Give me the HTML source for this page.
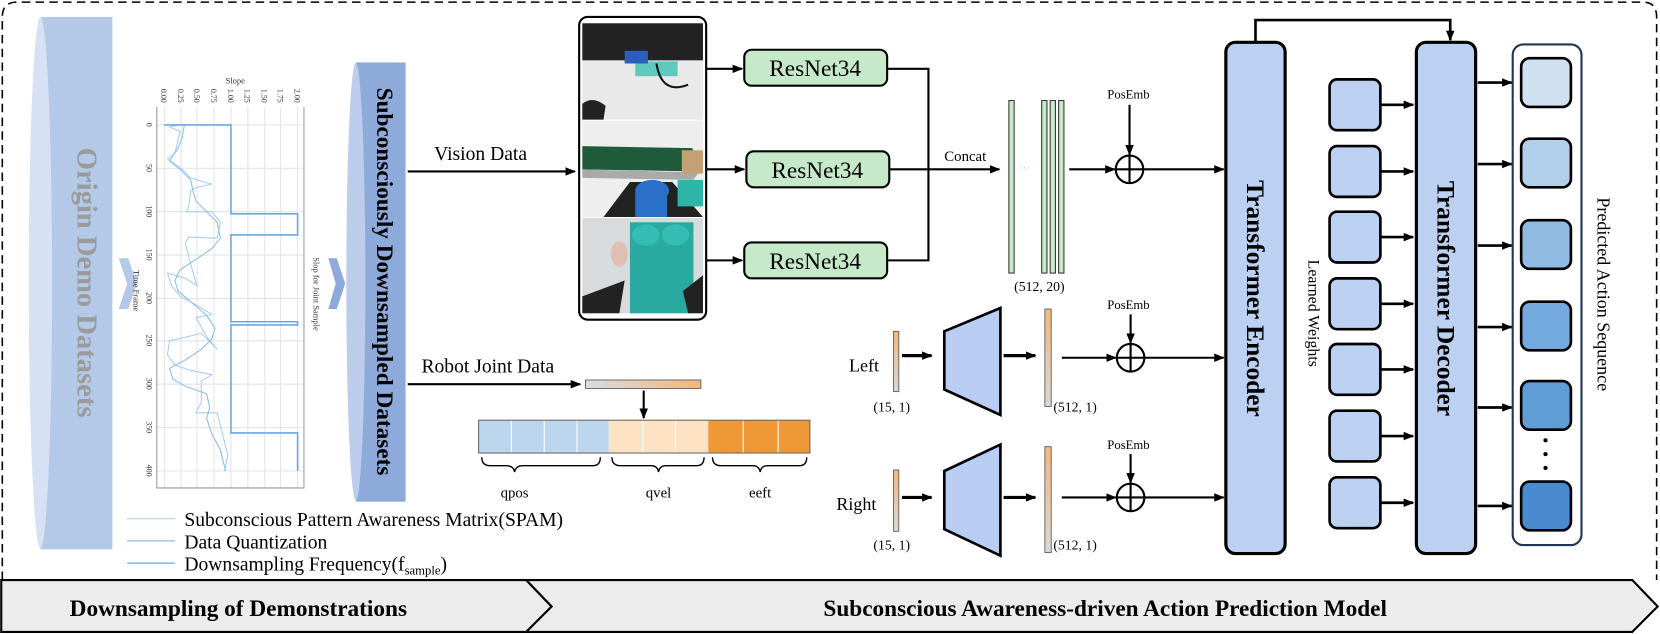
<!DOCTYPE html>
<html><head><meta charset="utf-8"><style>
html,body{margin:0;padding:0;background:#fff;}
svg{display:block;}
text{font-family:"Liberation Serif",serif;}
</style></head><body>
<svg width="1660" height="634" viewBox="0 0 1568 599" xmlns="http://www.w3.org/2000/svg">
<defs>
<marker id="ah" markerWidth="10" markerHeight="8" refX="9" refY="4" orient="auto" markerUnits="userSpaceOnUse"><path d="M0,0 L10,4 L0,8 z" fill="#000"/></marker>
<linearGradient id="og" x1="0" y1="1" x2="0" y2="0"><stop offset="0" stop-color="#d8d8d8"/><stop offset="1" stop-color="#f4b77a"/></linearGradient>
<linearGradient id="ogh" x1="0" y1="0" x2="1" y2="0"><stop offset="0" stop-color="#d8dde2"/><stop offset="1" stop-color="#f4b77a"/></linearGradient>
</defs>

<path d="M2,548 L2,16 Q2,2 16,2 L1552,2 Q1565,2 1565,16 L1565,548" fill="none" stroke="#000" stroke-width="1.5" stroke-dasharray="8,5"/>

<path d="M1,548 L497,548 L521,573 L497,597 L1,597 Z" fill="#ececec" stroke="#000" stroke-width="2"/>
<path d="M497,548 L1542,548 L1566,573 L1542,597 L521,597 L497,597 L521,573 Z" fill="#ececec" stroke="#000" stroke-width="2"/>
<text x="225" y="582" font-size="22" font-weight="bold" text-anchor="middle">Downsampling of Demonstrations</text>
<text x="1044" y="582" font-size="22" font-weight="bold" text-anchor="middle">Subconscious Awareness-driven Action Prediction Model</text>

<rect x="38" y="16" width="68" height="503" fill="#b4c8e8"/>
<ellipse cx="38" cy="267" rx="11" ry="251" fill="#d6e1f3"/>
<text transform="translate(73,267) rotate(90)" font-size="27" font-weight="bold" fill="#9a9a9a" text-anchor="middle">Origin Demo Datasets</text>
<path d="M112,244 L121,244 L129,268 L121,292 L112,292 L120,268 Z" fill="#b4c8e8"/>

<g stroke="#e4e4e4" stroke-width="1">
<line x1="155" y1="101" x2="155" y2="461"/><line x1="171" y1="101" x2="171" y2="461"/><line x1="186" y1="101" x2="186" y2="461"/><line x1="202" y1="101" x2="202" y2="461"/><line x1="218" y1="101" x2="218" y2="461"/><line x1="234" y1="101" x2="234" y2="461"/><line x1="250" y1="101" x2="250" y2="461"/><line x1="265" y1="101" x2="265" y2="461"/><line x1="281" y1="101" x2="281" y2="461"/>
<line x1="148" y1="118" x2="287" y2="118"/><line x1="148" y1="159" x2="287" y2="159"/><line x1="148" y1="200" x2="287" y2="200"/><line x1="148" y1="241" x2="287" y2="241"/><line x1="148" y1="282" x2="287" y2="282"/><line x1="148" y1="322" x2="287" y2="322"/><line x1="148" y1="363" x2="287" y2="363"/><line x1="148" y1="404" x2="287" y2="404"/><line x1="148" y1="445" x2="287" y2="445"/>
</g>
<path d="M148,101 L148,461 L287,461 L287,101" fill="none" stroke="#999" stroke-width="1"/>
<g font-size="7.5" fill="#333">
<text transform="translate(152,84) rotate(90)">0.00</text><text transform="translate(168,84) rotate(90)">0.25</text><text transform="translate(183,84) rotate(90)">0.50</text><text transform="translate(199,84) rotate(90)">0.75</text><text transform="translate(215,84) rotate(90)">1.00</text><text transform="translate(231,84) rotate(90)">1.25</text><text transform="translate(247,84) rotate(90)">1.50</text><text transform="translate(262,84) rotate(90)">1.75</text><text transform="translate(278,84) rotate(90)">2.00</text>
<text x="213" y="79" font-size="8">Slope</text>
<text transform="translate(138,116) rotate(90)">0</text><text transform="translate(138,155) rotate(90)">50</text><text transform="translate(138,194) rotate(90)">100</text><text transform="translate(138,235) rotate(90)">150</text><text transform="translate(138,276) rotate(90)">200</text><text transform="translate(138,316) rotate(90)">250</text><text transform="translate(138,357) rotate(90)">300</text><text transform="translate(138,398) rotate(90)">350</text><text transform="translate(138,439) rotate(90)">400</text>
<text transform="translate(126,255) rotate(90)" font-size="8">Time Frame</text>
<text transform="translate(296,243) rotate(90)" font-size="8">Slop for Joint Sample</text>
</g>
<polyline fill="none" stroke="#a8cdf2" stroke-width="1" points="170,118 160,120 170,124 165,145 158,150 172,160 180,168 186,170 200,174 186,177 180,180 178,196 176,200 200,200 208,210 205,225 178,224 175,230 180,250 183,260 186,270 175,263 158,258 162,270 170,280 180,285 200,297 185,300 195,318 205,330 190,315 160,322 158,335 165,345 180,350 200,354 190,360 190,380 185,390 205,390 210,410 215,430 212,445"/>
<polyline fill="none" stroke="#8cbcea" stroke-width="1" points="174,118 172,130 168,140 160,152 170,160 180,170 182,180 185,190 195,200 205,210 208,225 200,235 185,245 170,255 165,265 168,275 180,285 195,298 203,310 200,320 190,330 175,340 160,348 163,358 175,365 195,372 198,385 195,395 200,410 208,425 213,445"/>
<polyline fill="none" stroke="#6aa6e6" stroke-width="1.5" points="155,118 218,118 218,202 281,202 281,222 218,222 218,304 281,304 281,307 218,307 218,409 281,409 281,445"/>
<path d="M310,244 L318,244 L326,268 L318,292 L310,292 L317,268 Z" fill="#8eaadb"/>

<line x1="120" y1="490" x2="165" y2="490" stroke="#b8d8f5" stroke-width="1.2"/>
<line x1="120" y1="511" x2="165" y2="511" stroke="#8cbcea" stroke-width="1.2"/>
<line x1="120" y1="532" x2="165" y2="532" stroke="#6aa6e6" stroke-width="1.2"/>
<g font-size="18.5"><text x="174" y="497">Subconscious Pattern Awareness Matrix(SPAM)</text>
<text x="174" y="518">Data Quantization</text>
<text x="174" y="539">Downsampling Frequency(f<tspan font-size="12" dy="4">sample</tspan><tspan dy="-4">)</tspan></text></g>

<rect x="336" y="59" width="47" height="415" fill="#8eaadb"/>
<ellipse cx="336" cy="266" rx="9" ry="207" fill="#bccdec"/>
<text transform="translate(356,266) rotate(90)" font-size="22" font-weight="bold" text-anchor="middle">Subconsciously Downsampled Datasets</text>

<text x="410" y="151" font-size="18.5">Vision Data</text>
<line x1="385" y1="162" x2="543" y2="162" stroke="#000" stroke-width="2" marker-end="url(#ah)"/>
<text x="398" y="352" font-size="18.5">Robot Joint Data</text>
<line x1="385" y1="363" x2="548" y2="363" stroke="#000" stroke-width="2" marker-end="url(#ah)"/>

<rect x="547" y="16" width="120" height="286" rx="8" fill="#fff" stroke="#000" stroke-width="2"/>
<rect x="550" y="22" width="114" height="91" fill="#e9e9ea"/>
<rect x="550" y="22" width="114" height="35" fill="#222"/>
<rect x="600" y="58" width="40" height="14" fill="#5fc9c0"/>
<rect x="590" y="48" width="22" height="12" fill="#2a5fbf"/>
<path d="M550,98 Q560,90 572,100 L570,113 L550,113Z" fill="#222"/>
<path d="M620,60 Q625,90 650,80" stroke="#111" stroke-width="2" fill="none"/>
<rect x="550" y="114" width="114" height="91" fill="#eeeeee"/>
<path d="M550,138 L654,140 L660,162 L550,160Z" fill="#1f5a3a"/>
<path d="M550,160 L660,163 L655,170 L550,168Z" fill="#aaa"/>
<path d="M570,205 L595,172 L635,172 L664,205Z" fill="#222"/>
<ellipse cx="616" cy="180" rx="16" ry="10" fill="#2a6fc8"/>
<rect x="600" y="180" width="30" height="25" fill="#2a6fc8"/>
<rect x="640" y="170" width="24" height="25" fill="#2db5a8"/>
<rect x="644" y="142" width="20" height="22" fill="#c4a072"/>
<rect x="550" y="206" width="114" height="90" fill="#d8dbdc"/>
<rect x="595" y="210" width="60" height="86" fill="#2aa9a0"/>
<ellipse cx="610" cy="222" rx="13" ry="10" fill="#34bdb2"/><ellipse cx="638" cy="222" rx="13" ry="10" fill="#34bdb2"/>
<ellipse cx="585" cy="240" rx="8" ry="12" fill="#e0bfb3"/>
<path d="M550,296 L550,280 L590,265 L585,296Z" fill="#222"/>
<path d="M664,296 L664,260 L645,275 L650,296Z" fill="#222"/>

<g stroke="#000" stroke-width="2">
<line x1="667" y1="65" x2="701" y2="65" marker-end="url(#ah)"/>
<line x1="667" y1="160" x2="703" y2="160" marker-end="url(#ah)"/>
<line x1="667" y1="246" x2="701" y2="246" marker-end="url(#ah)"/>
<rect x="703" y="47" width="135" height="34" rx="7" fill="#c6e9c9"/>
<rect x="705" y="143" width="135" height="34" rx="7" fill="#c6e9c9"/>
<rect x="703" y="229" width="135" height="34" rx="7" fill="#c6e9c9"/>
<polyline points="838,65 877,65 877,246 838,246" fill="none"/>
<line x1="840" y1="160" x2="944" y2="160" marker-end="url(#ah)"/>
</g>
<g font-size="22" text-anchor="middle"><text x="770" y="72">ResNet34</text><text x="772" y="168">ResNet34</text><text x="770" y="254">ResNet34</text></g>
<text x="892" y="152" font-size="14">Concat</text>
<g fill="#c6e9c9" stroke="#333" stroke-width="1">
<rect x="953" y="95" width="5" height="163"/><rect x="984" y="95" width="5" height="163"/><rect x="992" y="95" width="5" height="163"/><rect x="1000" y="95" width="5" height="163"/>
</g>
<text x="963" y="162" font-size="10" fill="#a8dca8">···</text>
<text x="958" y="275" font-size="13">(512, 20)</text>

<g font-size="12"><text x="1046" y="93">PosEmb</text><text x="1046" y="292">PosEmb</text><text x="1046" y="424">PosEmb</text></g>
<g stroke="#000" stroke-width="2" fill="none">
<line x1="1067" y1="99" x2="1067" y2="146" marker-end="url(#ah)"/>
<line x1="1010" y1="160" x2="1053" y2="160" marker-end="url(#ah)"/>
<circle cx="1067" cy="160" r="13"/><line x1="1054" y1="160" x2="1080" y2="160"/><line x1="1067" y1="147" x2="1067" y2="173"/>
<line x1="1080" y1="160" x2="1156" y2="160" marker-end="url(#ah)"/>
<line x1="1068" y1="297" x2="1068" y2="324" marker-end="url(#ah)"/>
<line x1="1003" y1="338" x2="1054" y2="338" marker-end="url(#ah)"/>
<circle cx="1068" cy="338" r="13"/><line x1="1055" y1="338" x2="1081" y2="338"/><line x1="1068" y1="325" x2="1068" y2="351"/>
<line x1="1081" y1="338" x2="1156" y2="338" marker-end="url(#ah)"/>
<line x1="1068" y1="429" x2="1068" y2="456" marker-end="url(#ah)"/>
<line x1="1003" y1="470" x2="1054" y2="470" marker-end="url(#ah)"/>
<circle cx="1068" cy="470" r="13"/><line x1="1055" y1="470" x2="1081" y2="470"/><line x1="1068" y1="457" x2="1068" y2="483"/>
<line x1="1081" y1="470" x2="1156" y2="470" marker-end="url(#ah)"/>
<line x1="852" y1="336" x2="880" y2="336" stroke-width="3" marker-end="url(#ah)"/>
<line x1="948" y1="336" x2="978" y2="336" stroke-width="3" marker-end="url(#ah)"/>
<line x1="852" y1="470" x2="880" y2="470" stroke-width="3" marker-end="url(#ah)"/>
<line x1="948" y1="470" x2="978" y2="470" stroke-width="3" marker-end="url(#ah)"/>
</g>
<text x="802" y="351" font-size="17">Left</text>
<text x="790" y="482" font-size="17">Right</text>
<rect x="844" y="313" width="5" height="57" fill="url(#og)" stroke="#555" stroke-width="0.8"/>
<rect x="844" y="444" width="5" height="58" fill="url(#og)" stroke="#555" stroke-width="0.8"/>
<rect x="987" y="292" width="6" height="92" fill="url(#og)" stroke="#555" stroke-width="0.8"/>
<rect x="987" y="422" width="6" height="100" fill="url(#og)" stroke="#555" stroke-width="0.8"/>
<polygon points="892,313 945,291 945,392 892,368" fill="#b8cdf1" stroke="#000" stroke-width="2.5"/>
<polygon points="892,445 945,420 945,525 892,500" fill="#b8cdf1" stroke="#000" stroke-width="2.5"/>
<g font-size="13"><text x="825" y="389">(15, 1)</text><text x="995" y="389">(512, 1)</text><text x="825" y="519">(15, 1)</text><text x="995" y="519">(512, 1)</text></g>

<rect x="553" y="359" width="109" height="8" fill="url(#ogh)" stroke="#555" stroke-width="0.8"/>
<line x1="608" y1="369" x2="608" y2="395" stroke="#000" stroke-width="2" marker-end="url(#ah)"/>
<rect x="452" y="397" width="123" height="31" fill="#bcd6ee"/>
<rect x="575" y="397" width="94" height="31" fill="#fde3c4"/>
<rect x="669" y="397" width="96" height="31" fill="#ee9838"/>
<g stroke="#fff" stroke-width="1"><line x1="483" y1="397" x2="483" y2="428"/><line x1="514" y1="397" x2="514" y2="428"/><line x1="545" y1="397" x2="545" y2="428"/><line x1="607" y1="397" x2="607" y2="428"/><line x1="638" y1="397" x2="638" y2="428"/><line x1="702" y1="397" x2="702" y2="428"/><line x1="735" y1="397" x2="735" y2="428"/></g>
<rect x="452" y="397" width="313" height="31" fill="none" stroke="#666" stroke-width="1"/>
<g fill="none" stroke="#000" stroke-width="1.3">
<path d="M455,432 Q455,440 463,440 L478,440 Q485,440 486,446 Q487,440 494,440 L560,440 Q567,440 567,432"/>
<path d="M578,432 Q578,440 586,440 L615,440 Q621,440 622,446 Q623,440 629,440 L658,440 Q665,440 665,432"/>
<path d="M673,432 Q673,440 681,440 L711,440 Q717,440 718,446 Q719,440 725,440 L755,440 Q762,440 762,432"/>
</g>
<g font-size="14" text-anchor="middle"><text x="486" y="470">qpos</text><text x="622" y="470">qvel</text><text x="718" y="470">eeft</text></g>

<rect x="1158" y="40" width="56" height="483" rx="9" fill="#bcd0f2" stroke="#000" stroke-width="3"/>
<rect x="1338" y="40" width="56" height="483" rx="9" fill="#bcd0f2" stroke="#000" stroke-width="3"/>
<text transform="translate(1178,282) rotate(90)" font-size="24" font-weight="bold" text-anchor="middle">Transformer Encoder</text>
<text transform="translate(1358,282) rotate(90)" font-size="24" font-weight="bold" text-anchor="middle">Transformer Decoder</text>
<polyline points="1186,40 1186,19 1370,19 1370,38" fill="none" stroke="#000" stroke-width="2.5" marker-end="url(#ah)"/>

<text transform="translate(1236,296) rotate(90)" font-size="15" text-anchor="middle">Learned Weights</text>
<g fill="#bcd0f2" stroke="#000" stroke-width="2.5">
<rect x="1256" y="75" width="48" height="48" rx="7"/><rect x="1256" y="138" width="48" height="48" rx="7"/><rect x="1256" y="200" width="48" height="48" rx="7"/><rect x="1256" y="263" width="48" height="48" rx="7"/><rect x="1256" y="325" width="48" height="48" rx="7"/><rect x="1256" y="388" width="48" height="48" rx="7"/><rect x="1256" y="451" width="48" height="48" rx="7"/>
</g>
<g stroke="#000" stroke-width="2.5">
<line x1="1304" y1="99" x2="1335" y2="99" marker-end="url(#ah)"/><line x1="1304" y1="162" x2="1335" y2="162" marker-end="url(#ah)"/><line x1="1304" y1="224" x2="1335" y2="224" marker-end="url(#ah)"/><line x1="1304" y1="287" x2="1335" y2="287" marker-end="url(#ah)"/><line x1="1304" y1="349" x2="1335" y2="349" marker-end="url(#ah)"/><line x1="1304" y1="412" x2="1335" y2="412" marker-end="url(#ah)"/><line x1="1304" y1="475" x2="1335" y2="475" marker-end="url(#ah)"/>
<line x1="1396" y1="78" x2="1428" y2="78" marker-end="url(#ah)"/><line x1="1396" y1="155" x2="1428" y2="155" marker-end="url(#ah)"/><line x1="1396" y1="232" x2="1428" y2="232" marker-end="url(#ah)"/><line x1="1396" y1="309" x2="1428" y2="309" marker-end="url(#ah)"/><line x1="1396" y1="385" x2="1428" y2="385" marker-end="url(#ah)"/><line x1="1396" y1="478" x2="1428" y2="478" marker-end="url(#ah)"/>
</g>
<rect x="1429" y="42" width="65" height="473" rx="10" fill="#fff" stroke="#1f3556" stroke-width="2"/>
<g stroke="#000" stroke-width="2.5">
<rect x="1437" y="55" width="47" height="46" rx="8" fill="#cfe0f1"/>
<rect x="1437" y="131" width="47" height="46" rx="8" fill="#b2cfea"/>
<rect x="1437" y="208" width="47" height="46" rx="8" fill="#8fbae2"/>
<rect x="1437" y="285" width="47" height="46" rx="8" fill="#73a9dc"/>
<rect x="1437" y="360" width="47" height="46" rx="8" fill="#609dd7"/>
<rect x="1437" y="455" width="47" height="46" rx="8" fill="#4a8bd0"/>
</g>
<g fill="#000"><circle cx="1460" cy="416" r="2"/><circle cx="1460" cy="429" r="2"/><circle cx="1460" cy="442" r="2"/></g>
<text transform="translate(1509,278) rotate(90)" font-size="17" text-anchor="middle">Predicted Action Sequence</text>
</svg>
</body></html>
